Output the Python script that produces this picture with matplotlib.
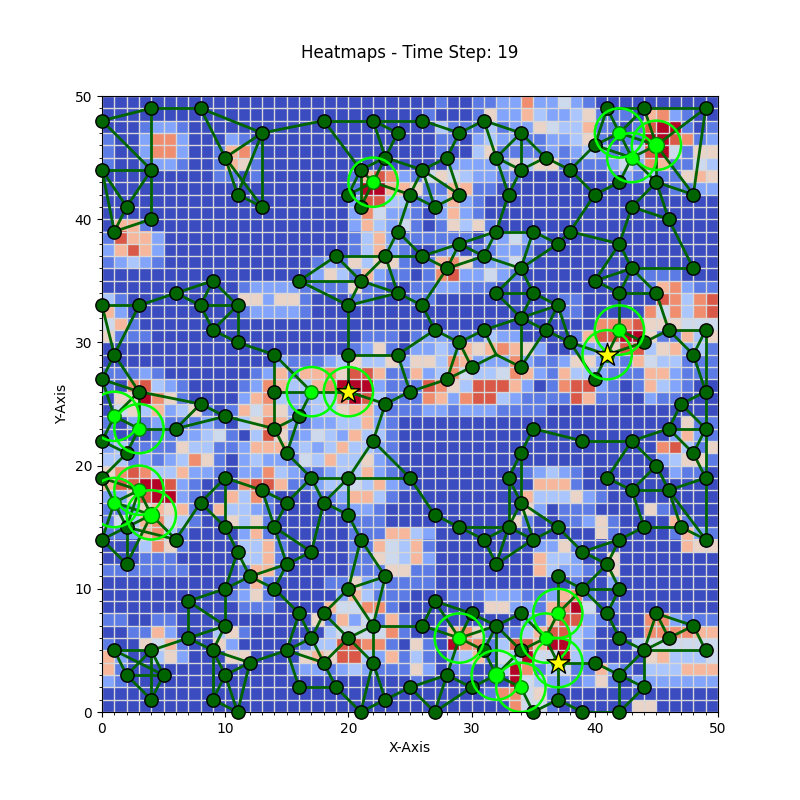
import matplotlib
matplotlib.use('Agg')
import matplotlib.pyplot as plt
import numpy as np

# Heat levels 0-9, top row (y=49) first
heat_rows = [
    "0000000000000000000000000" "0010011227224210000000000",
    "0000000000000000000000000" "0100015226322351110672100",
    "0001221000000000000000000" "0031113122543361101899101",
    "1002772000210000000000000" "0011023221122351011998712",
    "1002772001671000000000000" "0010035111121232113894155",
    "1001221001651000000000000" "0002222253551111242761143",
    "0000000001101000000016872" "1454322110000000121311565",
    "0000000000000000000019966" "5116611000000000000001122",
    "0000000000000000000028833" "1126210000000000000000000",
    "0000000000000000000027422" "1026210000000000000000000",
    "0661000000000000000026324" "1015351000000000000000000",
    "1866200000000000000013621" "1111102242100000000000000",
    "2686200000000000000013621" "0012011221000000000000000",
    "1232100000000000012153551" "0167512241000000000000000",
    "0000000000000000025316211" "0178224210000000001111000",
    "0000000000012222111151100" "1122111000000000000167211",
    "3100000000055255100011000" "1100000000001100000087378",
    "6200000000012222100000000" "0000000000001100000747378",
    "4610000000000000000000000" "0000000000000007778555444",
    "5111000000000000000001110" "1221113220000168899511635",
    "0000000000000000000012510" "2232656765200122588356231",
    "0000000000000021112353352" "5537622272112552216433111",
    "1112100000001261667588611" "6237433476216332111662111",
    "1078321000012763367999211" "1875388862017882101632100",
    "0559751000026732233798311" "1762788321111861100211000",
    "0453623510164652233566211" "1221222111100000000000000",
    "1021211121035762122336210" "0000000000000000000000511",
    "1000112234103851243263310" "0000000000000000000002621",
    "2311115331126662323633210" "0000000000000000000078315",
    "3312123751023221436335210" "0000000000000000000023551",
    "5787336221022732112336210" "0000000001232100000002110",
    "6889982100078861123343621" "0000000000666100000000000",
    "2258992100637100011266310" "0000000006333521000000000",
    "1125656106332100000122100" "0000000005201110000510000",
    "1436743100535100000011100" "0000000051001125100006100",
    "1126731000026100000011166" "3200000000000005100001621",
    "0003751000033610000011643" "6100000000225100000000655",
    "0001110000033610000011543" "6200000000633200500000000",
    "1111111000016610000011155" "1100000000632210500000000",
    "0000000000016100001152211" "1100000000000100200000000",
    "0000000000125100000263111" "0001112221126710000000000",
    "0000000000011100006447710" "0000005522167940100000000",
    "1100110000000000051624161" "0000000002168821000772111",
    "0011620003510000003444471" "0006751113688320000777766",
    "1005461005200000133887710" "5109771388699310003444444",
    "6200352000550000565883261" "3102361439449320000563334",
    "6100000000000001221232111" "5201100397134116210333666",
    "2100000000000000000000000" "1000000094322125102222222",
    "0000000000000000000000000" "0000001774510000000000000",
    "0000000000000000000000000" "0000000074410000005500000",
]

# Plain relay nodes
node_x = [0, 4, 8, 13, 18, 22, 24, 23, 21, 20, 21, 25, 10, 11, 13, 0, 4, 2, 4, 1,
          24, 23, 19, 16, 21, 24, 20, 20, 24, 0, 3, 6, 9, 8, 11, 9, 11, 14, 1, 0,
          3, 8, 14, 23, 25, 10, 16, 14, 15, 17, 20, 22, 25, 6, 0, 2, 0, 2, 0, 6,
          2, 10, 13, 8, 15, 18, 20, 10, 14, 21, 11, 17, 15, 12, 23, 10, 14, 20, 7, 16,
          18, 10, 22, 7, 17, 20, 1, 4, 9, 15, 12, 18, 22, 2, 5, 10, 16, 19, 25, 4,
          9, 23, 11, 21,
          26, 29, 31, 34, 28, 32, 36, 26, 34, 38, 29, 27, 33, 40, 42, 45, 43, 48, 46, 49,
          44, 41, 40, 32, 35, 38, 42, 29, 31, 26, 28, 37, 34, 43, 48, 40, 42, 45, 32, 35,
          26, 37, 34, 27, 31, 36, 29, 38, 30, 34, 28, 44, 40, 46, 49, 48, 49, 47,
          46, 49, 48, 45, 49, 39, 35, 43, 41, 43, 46, 34, 33, 34, 37, 47, 44, 49, 27, 29,
          33, 31, 35, 39, 42, 41, 32, 37, 39, 42, 41, 42, 44, 40, 42, 44, 42, 39, 37, 35,
          34, 34, 32, 26, 30, 27, 31, 28, 30, 27, 45, 48, 46, 49]
node_y = [48, 49, 49, 47, 48, 48, 47, 45, 44, 42, 41, 42, 45, 42, 41, 44, 44, 41, 40, 39,
          39, 37, 37, 35, 35, 34, 33, 29, 29, 33, 33, 34, 35, 33, 33, 31, 30, 29, 29, 27,
          26, 25, 26, 25, 26, 24, 24, 23, 21, 19, 19, 22, 19, 23, 22, 21, 19, 15, 14, 14,
          12, 19, 18, 17, 17, 17, 16, 15, 15, 14, 13, 13, 12, 11, 11, 10, 10, 10, 9, 8,
          8, 7, 7, 6, 6, 6, 5, 5, 5, 5, 4, 4, 4, 3, 3, 3, 2, 2, 2, 1,
          1, 1, 0, 0,
          48, 47, 48, 47, 45, 45, 45, 44, 44, 44, 42, 41, 42, 42, 43, 43, 41, 42, 40, 49,
          49, 49, 46, 39, 39, 39, 38, 38, 37, 37, 36, 38, 36, 36, 36, 35, 34, 34, 34, 34,
          33, 33, 32, 31, 31, 31, 30, 30, 28, 28, 27, 30, 27, 31, 31, 29, 26, 25,
          23, 23, 21, 20, 19, 22, 23, 22, 19, 18, 18, 21, 19, 17, 15, 15, 15, 14, 16, 15,
          15, 14, 14, 13, 14, 12, 12, 11, 10, 10, 8, 6, 5, 4, 3, 2, 0, 0, 1, 0,
          5, 8, 7, 7, 8, 9, 5, 3, 2, 0, 8, 7, 6, 5]

# Nodes carrying a sensing ring
active_x = [22, 17, 20, 1, 3, 3, 1, 4, 42, 45, 43, 42, 41, 29, 32, 34, 36, 37, 37]
active_y = [43, 26, 26, 24, 23, 18, 17, 16, 47, 46, 45, 31, 29, 6, 3, 2, 6, 8, 4]
big_x = [45, 4, 32]
big_y = [46, 16, 3]
star_x = [20, 41, 37]
star_y = [26, 29, 4]

edges = [
    ((0,48),(4,49)), ((4,49),(8,49)), ((8,49),(13,47)), ((13,47),(18,48)), ((18,48),(22,48)),
    ((22,48),(24,47)), ((18,48),(21,44)), ((22,48),(23,45)), ((24,47),(23,45)), ((22,48),(26,48)),
    ((23,45),(26,44)), ((4,49),(4,44)), ((0,48),(4,44)), ((0,44),(4,44)), ((4,44),(2,41)),
    ((4,44),(4,40)), ((0,44),(2,41)), ((0,44),(1,39)), ((2,41),(1,39)), ((1,39),(4,40)),
    ((8,49),(10,45)), ((10,45),(13,47)), ((13,47),(11,42)), ((13,47),(13,41)), ((10,45),(11,42)),
    ((10,45),(13,41)), ((11,42),(13,41)), ((21,44),(22,43)), ((21,44),(20,42)), ((21,44),(21,41)),
    ((21,44),(23,45)), ((22,43),(23,45)), ((22,43),(20,42)), ((22,43),(21,41)), ((22,43),(25,42)),
    ((25,42),(24,39)), ((24,39),(23,37)), ((19,37),(23,37)), ((19,37),(16,35)), ((19,37),(21,35)),
    ((23,37),(21,35)), ((23,37),(24,34)), ((16,35),(21,35)), ((16,35),(20,33)), ((21,35),(24,34)),
    ((21,35),(20,33)), ((20,33),(24,34)), ((20,33),(20,29)), ((20,29),(24,29)), ((24,29),(25,26)),
    ((24,29),(27,31)), ((23,37),(26,37)), ((24,34),(26,33)), ((24,39),(26,37)), ((25,42),(26,44)),
    ((40,46),(43,45)), ((26,44),(28,45)), ((26,44),(27,41)), ((26,44),(29,42)), ((28,45),(29,47)),
    ((28,45),(29,42)), ((26,48),(29,47)), ((25,42),(27,41)), ((27,41),(29,42)), ((29,47),(31,48)),
    ((31,48),(32,45)), ((31,48),(34,47)), ((34,47),(32,45)), ((34,47),(34,44)), ((34,47),(36,45)),
    ((32,45),(34,44)), ((32,45),(33,42)), ((34,44),(33,42)), ((34,44),(36,45)), ((36,45),(38,44)),
    ((38,44),(40,42)), ((38,44),(40,46)), ((40,46),(41,49)), ((40,46),(42,47)), ((41,49),(44,49)),
    ((44,49),(49,49)), ((41,49),(42,47)), ((44,49),(42,47)), ((44,49),(45,46)), ((49,49),(45,46)),
    ((49,49),(48,42)), ((42,47),(43,45)), ((42,47),(45,46)), ((43,45),(45,46)), ((43,45),(42,43)),
    ((43,45),(45,43)), ((45,46),(45,43)), ((45,46),(48,42)), ((40,42),(42,43)), ((40,42),(38,39)),
    ((43,41),(45,43)), ((45,43),(48,42)), ((45,43),(46,40)), ((43,41),(46,40)), ((43,41),(42,38)),
    ((46,40),(48,36)), ((42,38),(40,35)), ((42,38),(43,36)), ((43,36),(48,36)), ((43,36),(40,35)),
    ((43,36),(42,34)), ((43,36),(45,34)), ((40,35),(42,34)), ((42,34),(45,34)), ((42,34),(42,31)),
    ((45,34),(46,31)), ((46,31),(49,31)), ((46,31),(48,29)), ((49,31),(48,29)), ((49,31),(49,26)),
    ((48,29),(49,26)), ((46,31),(44,30)), ((42,31),(44,30)), ((42,31),(41,29)), ((44,30),(41,29)),
    ((41,29),(38,30)), ((41,29),(40,27)), ((38,30),(40,27)), ((38,30),(36,31)), ((36,31),(37,33)),
    ((36,31),(34,32)), ((38,30),(37,33)), ((34,32),(37,33)), ((34,32),(35,34)), ((35,34),(37,33)),
    ((32,34),(35,34)), ((32,34),(34,32)), ((35,34),(34,36)), ((34,36),(32,34)), ((34,36),(35,39)),
    ((34,36),(37,38)), ((34,36),(31,37)), ((35,39),(32,39)), ((35,39),(37,38)), ((32,39),(31,37)),
    ((32,39),(29,38)), ((29,38),(31,37)), ((29,38),(26,37)), ((29,38),(28,36)), ((26,37),(28,36)),
    ((31,37),(28,36)), ((28,36),(26,33)), ((26,33),(27,31)), ((27,31),(29,30)), ((29,30),(31,31)),
    ((31,31),(34,32)), ((31,31),(32,29)), ((29,30),(28,27)), ((29,30),(30,28)), ((30,28),(32,29)),
    ((32,29),(34,28)), ((34,32),(34,28)), ((34,28),(36,31)), ((37,38),(38,39)), ((38,39),(42,38)),
    ((33,42),(32,39)), ((28,27),(30,28)), ((28,27),(25,26)), ((25,26),(23,25)), ((20,26),(23,25)),
    ((17,26),(20,26)), ((14,26),(17,26)), ((14,29),(17,26)), ((14,29),(14,26)), ((11,30),(14,29)),
    ((9,31),(11,30)), ((8,33),(9,31)), ((9,35),(8,33)), ((9,35),(11,33)), ((6,34),(9,35)),
    ((6,34),(8,33)), ((3,33),(6,34)), ((0,33),(3,33)), ((8,33),(11,33)), ((11,33),(9,31)),
    ((11,33),(11,30)), ((3,33),(1,29)), ((0,33),(1,29)), ((1,29),(0,27)), ((1,29),(3,26)),
    ((0,27),(3,26)), ((3,26),(8,25)), ((8,25),(10,24)), ((10,24),(14,23)), ((14,26),(14,23)),
    ((14,23),(16,24)), ((16,24),(15,21)), ((16,24),(17,26)), ((14,23),(15,21)), ((20,29),(20,26)),
    ((23,25),(22,22)), ((15,21),(17,19)), ((17,19),(20,19)), ((20,19),(25,19)), ((20,19),(22,22)),
    ((22,22),(25,19)), ((17,19),(18,17)), ((20,19),(18,17)), ((20,19),(20,16)), ((18,17),(20,16)),
    ((18,17),(17,13)), ((15,17),(17,19)), ((13,18),(15,17)), ((10,19),(13,18)), ((10,19),(8,17)),
    ((10,19),(10,15)), ((8,17),(10,15)), ((8,17),(6,14)), ((10,15),(14,15)), ((10,15),(11,13)),
    ((14,15),(13,18)), ((14,15),(15,17)), ((14,15),(15,12)), ((14,15),(17,13)), ((15,12),(17,13)),
    ((15,12),(12,11)), ((11,13),(12,11)), ((12,11),(10,10)), ((12,11),(14,10)), ((14,10),(15,12)),
    ((14,10),(16,8)), ((16,8),(15,5)), ((16,8),(17,6)), ((17,6),(15,5)), ((17,6),(18,8)),
    ((18,8),(20,10)), ((20,10),(23,11)), ((23,11),(21,14)), ((21,14),(20,16)), ((21,14),(20,10)),
    ((23,11),(22,7)), ((20,10),(22,7)), ((18,8),(20,6)), ((22,7),(20,6)), ((22,7),(22,4)),
    ((22,7),(26,7)), ((17,6),(18,4)), ((20,6),(18,4)), ((20,6),(22,4)), ((15,5),(18,4)),
    ((15,5),(12,4)), ((15,5),(16,2)), ((18,4),(19,2)), ((16,2),(19,2)), ((19,2),(21,0)),
    ((22,4),(21,0)), ((22,4),(23,1)), ((21,0),(23,1)), ((23,1),(25,2)), ((10,10),(7,9)),
    ((10,10),(10,7)), ((7,9),(7,6)), ((7,9),(10,7)), ((7,6),(10,7)), ((7,6),(9,5)),
    ((10,7),(9,5)), ((7,6),(4,5)), ((1,5),(4,5)), ((1,5),(2,3)), ((1,5),(5,3)),
    ((4,5),(2,3)), ((4,5),(5,3)), ((2,3),(5,3)), ((2,3),(4,1)), ((4,5),(4,1)),
    ((5,3),(4,1)), ((9,5),(10,3)), ((9,5),(9,1)), ((9,5),(12,4)), ((10,3),(9,1)),
    ((10,3),(12,4)), ((10,3),(11,0)), ((9,1),(11,0)), ((12,4),(11,0)), ((11,13),(10,10)),
    ((0,22),(1,24)), ((0,22),(2,21)), ((2,21),(0,19)), ((2,21),(3,23)), ((3,23),(1,24)),
    ((3,23),(6,23)), ((1,24),(3,26)), ((1,24),(0,27)), ((3,23),(3,26)), ((6,23),(10,24)),
    ((6,23),(8,25)), ((0,19),(3,18)), ((0,19),(1,17)), ((3,18),(1,17)), ((3,18),(4,16)),
    ((3,18),(2,15)), ((1,17),(4,16)), ((1,17),(2,15)), ((1,17),(0,14)), ((4,16),(2,15)),
    ((4,16),(6,14)), ((4,16),(2,12)), ((2,15),(0,14)), ((2,15),(2,12)), ((0,14),(2,12)),
    ((2,15),(6,14)), ((35,23),(34,21)), ((35,23),(39,22)), ((39,22),(43,22)), ((43,22),(41,19)),
    ((43,22),(45,20)), ((43,22),(46,23)), ((46,23),(49,23)), ((46,23),(48,21)), ((46,23),(47,25)),
    ((49,23),(47,25)), ((49,23),(48,21)), ((49,23),(49,19)), ((48,21),(49,19)), ((45,20),(43,18)),
    ((45,20),(46,18)), ((41,19),(43,18)), ((43,18),(46,18)), ((46,18),(49,19)), ((46,18),(47,15)),
    ((46,18),(49,14)), ((47,15),(49,14)), ((49,19),(49,14)), ((43,18),(44,15)), ((44,15),(47,15)),
    ((44,15),(42,14)), ((42,14),(39,13)), ((42,14),(41,12)), ((39,13),(41,12)), ((41,12),(42,10)),
    ((39,13),(37,15)), ((37,15),(35,14)), ((37,15),(34,17)), ((35,14),(34,17)), ((35,14),(33,15)),
    ((35,14),(32,12)), ((33,15),(31,14)), ((31,14),(32,12)), ((33,15),(32,12)), ((29,15),(31,14)),
    ((29,15),(33,15)), ((33,15),(34,17)), ((33,15),(33,19)), ((33,19),(34,17)), ((33,19),(34,21)),
    ((34,21),(34,17)), ((27,16),(29,15)), ((25,19),(27,16)), ((37,11),(39,10)), ((37,11),(37,8)),
    ((37,8),(39,10)), ((39,10),(42,10)), ((39,10),(41,12)), ((39,10),(41,8)), ((41,8),(42,10)),
    ((41,8),(42,6)), ((42,6),(44,5)), ((44,5),(45,8)), ((45,8),(48,7)), ((45,8),(46,6)),
    ((46,6),(48,7)), ((48,7),(49,5)), ((44,5),(49,5)), ((46,6),(44,5)), ((44,5),(42,3)),
    ((44,5),(44,2)), ((42,3),(44,2)), ((42,3),(42,0)), ((44,2),(42,0)), ((42,3),(40,4)),
    ((37,4),(40,4)), ((39,0),(42,0)), ((37,1),(39,0)), ((37,1),(37,4)), ((37,1),(35,0)),
    ((35,0),(34,2)), ((37,4),(36,6)), ((37,8),(36,6)), ((36,6),(34,5)), ((36,6),(34,8)),
    ((34,8),(32,7)), ((26,7),(29,6)), ((26,7),(27,9)), ((27,9),(30,8)), ((27,9),(29,6)),
    ((29,6),(30,8)), ((29,6),(32,7)), ((29,6),(31,5)), ((29,6),(28,3)), ((30,8),(32,7)),
    ((32,7),(31,5)), ((31,5),(32,3)), ((32,7),(32,3)), ((32,7),(34,5)), ((32,3),(34,2)),
    ((32,3),(30,2)), ((32,3),(34,5)), ((28,3),(30,2)), ((28,3),(27,0)), ((30,2),(27,0)),
    ((25,2),(27,0)), ((25,2),(28,3)), ((47,25),(49,26)), ((49,26),(49,23)),
]

heat = np.array([[int(c) for c in row] for row in heat_rows]) / 9.0

fig, ax = plt.subplots(figsize=(8, 8))
ax.imshow(heat, cmap='coolwarm', vmin=0, vmax=1, extent=[0, 50, 0, 50], aspect='equal')

ax.set_xticks(range(0, 51, 10))
ax.set_yticks(range(0, 51, 10))
ax.set_xticks(range(0, 51), minor=True)
ax.set_yticks(range(0, 51), minor=True)
ax.grid(which='both', color='#d8d8d8', linewidth=1)

for (x1, y1), (x2, y2) in edges:
    ax.plot([x1, x2], [y1, y2], color='#006400', linewidth=2, zorder=3)

ax.scatter(node_x, node_y, s=92, facecolors='#006400', edgecolors='black', linewidths=1, zorder=4, clip_on=False)
ax.scatter(active_x, active_y, s=92, facecolors='lime', edgecolors='#008000', linewidths=1, zorder=5)
ax.scatter(big_x, big_y, s=130, facecolors='lime', edgecolors='#008000', linewidths=1, zorder=5)

for x, y in zip(active_x, active_y):
    ax.add_patch(plt.Circle((x, y), 2, fill=False, edgecolor='lime', linewidth=1.8, zorder=6))

ax.scatter(star_x, star_y, s=300, marker='*', facecolors='yellow', edgecolors='black', linewidths=1, zorder=7)

ax.set_xlim(0, 50)
ax.set_ylim(0, 50)
ax.set_xlabel('X-Axis')
ax.set_ylabel('Y-Axis')
ax.set_title('Heatmaps - Time Step: 19', pad=27)

fig.savefig('out.png', dpi=100)
